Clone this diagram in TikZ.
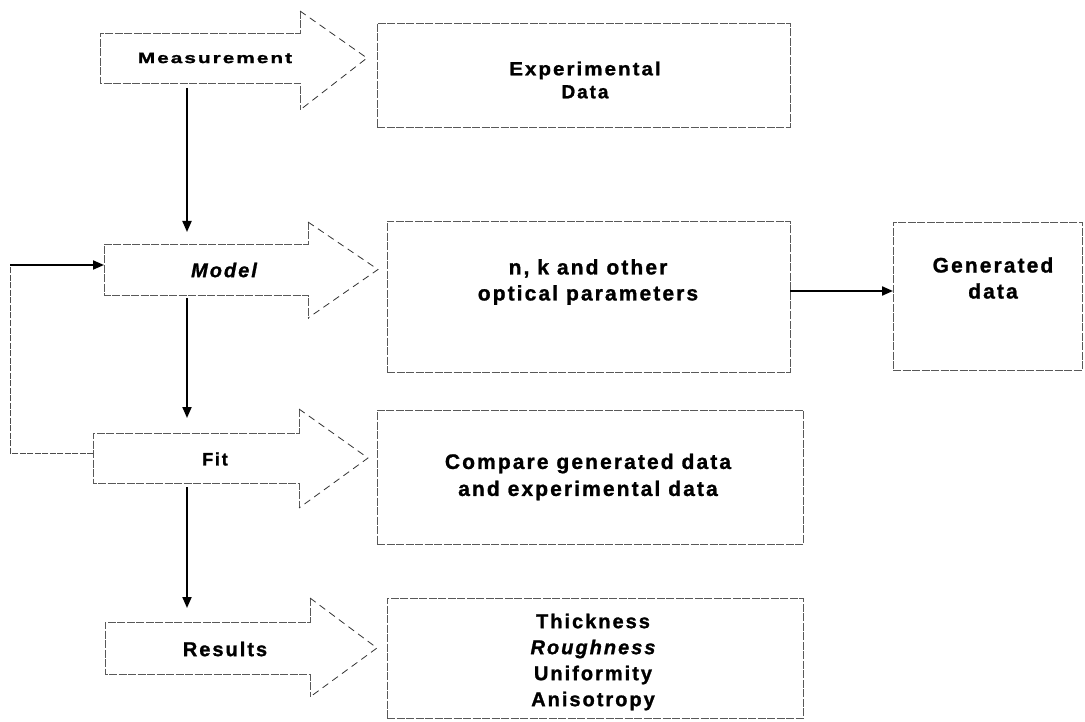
\documentclass[tikz,border=0pt]{standalone}
\usepackage{fontspec}
\setmainfont{Liberation Sans}
\newfontfamily\labb[LetterSpace=10, FakeBold=1.2]{Liberation Sans Bold}
\newfontfamily\labbi[LetterSpace=10, FakeBold=1.2]{Liberation Sans Bold Italic}
\usetikzlibrary{arrows.meta}
\tikzset{
  body/.style={draw=none, inner sep=0pt, outer sep=0pt},
  bodyline/.style={draw=black!65, line width=0.7pt, dash pattern=on 8pt off 1.5pt},
  headline/.style={draw=black!80, line width=0.8pt, dash pattern=on 7pt off 5pt},
  box/.style={draw=black!65, line width=0.7pt, dash pattern=on 8pt off 1.5pt, inner sep=0pt, outer sep=0pt},
  conn/.style={line width=2pt, -{Triangle[length=11pt,width=9pt]}},
  loopline/.style={draw=black!70, line width=0.8pt, dash pattern=on 6pt off 1.5pt},
  txt/.style={align=center, inner sep=0pt},
}
\newcommand\blockarrow[4]{%
  \draw[bodyline] ([yshift=#2]#1.north east) -- (#1.north east) -- (#1.north west)
     -- (#1.south west) -- (#1.south east) -- ([yshift=-#3]#1.south east);
  \draw[headline] ([yshift=#2]#1.north east) -- ([xshift=#4]#1.east) -- ([yshift=-#3]#1.south east);}
\begin{document}
\begin{tikzpicture}[x=1pt,y=-1pt]
\useasboundingbox[fill=white] (0,0) rectangle (1085,722);
% block arrows
\node[body, minimum width=200pt, minimum height=50pt] (measbody) at (200,58) {};
\node[body, minimum width=204pt, minimum height=51pt] (modelbody) at (206,269.5) {};
\node[body, minimum width=206pt, minimum height=50pt] (fitbody) at (196,458) {};
\node[body, minimum width=205pt, minimum height=52pt] (resbody) at (207.5,648) {};
\blockarrow{measbody}{22pt}{27pt}{67pt}
\blockarrow{modelbody}{22pt}{23pt}{70pt}
\blockarrow{fitbody}{24pt}{25pt}{69pt}
\blockarrow{resbody}{24pt}{23pt}{67pt}
\node[txt, font=\labb\fontsize{15}{18}\selectfont] (meas) at (215,58) {\scalebox{1.38}[1]{Measurement}};
\node[txt, font=\labbi\fontsize{20}{24}\selectfont] (model) at (224,270) {Model};
\node[txt, font=\labb\fontsize{18}{22}\selectfont] (fit) at (215,459) {Fit};
\node[txt, font=\labb\fontsize{20}{24}\selectfont] (res) at (225,649) {Results};
% boxes
\node[box, minimum width=413pt, minimum height=104pt] (exp) at (583.5,75) {};
\node[box, minimum width=403pt, minimum height=151pt] (nk) at (588.5,296.5) {};
\node[box, minimum width=189pt, minimum height=148pt] (gen) at (987.5,296) {};
\node[box, minimum width=426pt, minimum height=134pt] (cmp) at (590,477) {};
\node[box, minimum width=416pt, minimum height=120pt] (resbox) at (595,658) {};
\node[txt, font=\labb\fontsize{19}{23}\selectfont] (exptext) at (585,80) {\scalebox{1.08}[1]{Experimental}\\Data};
\node[txt, font=\labb\fontsize{21}{26}\selectfont] (nktext) at (588,282) {n, k and other\\optical parameters};
\node[txt, font=\labb\fontsize{21}{26}\selectfont] (gentext) at (993,278) {Generated\\data};
\node[txt, font=\labb\fontsize{21}{27}\selectfont] (cmptext) at (588,477) {Compare generated data\\and experimental data};
\node[txt, font=\labb\fontsize{20}{26}\selectfont] (restext) at (593,662) {Thickness\\{\labbi Roughness}\\Uniformity\\Anisotropy};
% connectors
\coordinate (vx) at (187,0);
\coordinate (ay) at (0,291);
\coordinate (loopc) at (10,265);
\draw[conn] ([yshift=-5pt]measbody.south -| vx) -- ([yshift=12pt]modelbody.north -| vx);
\draw[conn] ([yshift=-3pt]modelbody.south -| vx) -- ([yshift=15pt]fitbody.north -| vx);
\draw[conn] ([yshift=-4pt]fitbody.south -| vx) -- ([yshift=14pt]resbody.north -| vx);
\draw[conn] (nk.east |- ay) -- (gen.west |- ay);
\draw[loopline] ([yshift=5pt]fitbody.west) -| (loopc);
\draw[conn] (loopc) -- (loopc -| modelbody.west);
\end{tikzpicture}
\end{document}
